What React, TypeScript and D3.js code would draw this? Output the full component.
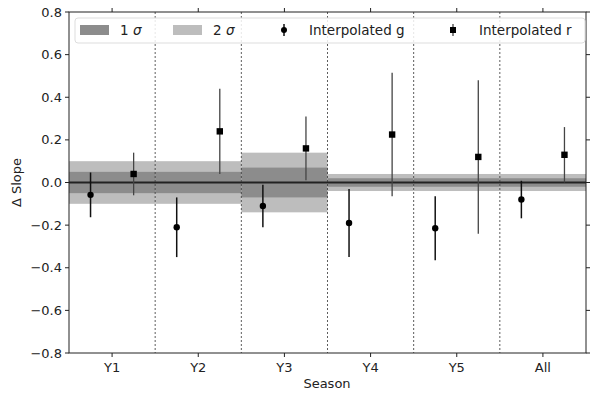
import React from "react";
import * as d3 from "d3";

const categories = ["Y1", "Y2", "Y3", "Y4", "Y5", "All"];
const sigma1 = [0.05, 0.05, 0.07, 0.02, 0.02, 0.02];
const sigma2 = [0.1, 0.1, 0.14, 0.04, 0.04, 0.04];
const gValues = [-0.058, -0.21, -0.11, -0.19, -0.215, -0.08];
const gErrors = [0.105, 0.14, 0.1, 0.16, 0.15, 0.088];
const rValues = [0.04, 0.24, 0.16, 0.225, 0.12, 0.13];
const rErrors = [0.1, 0.2, 0.15, 0.29, 0.36, 0.13];
const yTicks = [-0.8, -0.6, -0.4, -0.2, 0.0, 0.2, 0.4, 0.6, 0.8];

const W = 590;
const H = 399;
const left = 69;
const right = 586;
const top = 12;
const bottom = 353;

export default function App() {
  const x = d3.scaleLinear().domain([-0.5, categories.length - 0.5]).range([left, right]);
  const y = d3.scaleLinear().domain([-0.8, 0.8]).range([bottom, top]);
  const fmt = (v: number) => d3.format(".1f")(v).replace("-", "\u2212");
  const font = "DejaVu Sans, sans-serif";
  const off = 0.25;
  const fs = 13;
  return (
    <svg width={W} height={H} style={{ position: "absolute", left: 0, top: 0, background: "#fff" }} fontFamily={font}>
      <rect x={0} y={0} width={W} height={H} fill="#fff" />
      {categories.map((c, i) => (
        <g key={"b" + c}>
          <rect x={x(i - 0.5)} width={x(i + 0.5) - x(i - 0.5)} y={y(sigma2[i])} height={y(-sigma2[i]) - y(sigma2[i])} fill="#bdbdbd" />
          <rect x={x(i - 0.5)} width={x(i + 0.5) - x(i - 0.5)} y={y(sigma1[i])} height={y(-sigma1[i]) - y(sigma1[i])} fill="#8c8c8c" />
        </g>
      ))}
      <line x1={left} x2={right} y1={y(0)} y2={y(0)} stroke="#222" strokeWidth={2.2} />
      {categories.slice(1).map((c, i) => (
        <line key={"s" + c} x1={x(i + 0.5)} x2={x(i + 0.5)} y1={top} y2={bottom} stroke="#333" strokeWidth={0.8} strokeDasharray="2,2" />
      ))}
      {categories.map((c, i) => (
        <g key={"g" + c}>
          <line x1={x(i - off)} x2={x(i - off)} y1={y(gValues[i] + gErrors[i])} y2={y(gValues[i] - gErrors[i])} stroke="#111" strokeWidth={1.5} />
          <circle cx={x(i - off)} cy={y(gValues[i])} r={3.2} fill="#000" />
        </g>
      ))}
      {categories.map((c, i) => (
        <g key={"r" + c}>
          <line x1={x(i + off)} x2={x(i + off)} y1={y(rValues[i] + rErrors[i])} y2={y(rValues[i] - rErrors[i])} stroke="#444" strokeWidth={1.3} />
          <rect x={x(i + off) - 3.2} y={y(rValues[i]) - 3.2} width={6.4} height={6.4} fill="#000" />
        </g>
      ))}
      <rect x={left} y={top} width={right - left} height={bottom - top} fill="none" stroke="#222" strokeWidth={1} />
      {yTicks.map((t) => (
        <g key={"y" + t}>
          <line x1={left - 4} x2={left} y1={y(t)} y2={y(t)} stroke="#222" />
          <line x1={right} x2={right + 4} y1={y(t)} y2={y(t)} stroke="#222" />
          <text x={left - 7} y={y(t)} dy="0.35em" textAnchor="end" fontSize={fs} fill="#222">{fmt(t)}</text>
        </g>
      ))}
      {categories.map((c, i) => (
        <g key={"x" + c}>
          <line x1={x(i)} x2={x(i)} y1={bottom} y2={bottom + 4} stroke="#222" />
          <line x1={x(i)} x2={x(i)} y1={top - 4} y2={top} stroke="#222" />
          <text x={x(i)} y={bottom + 19} textAnchor="middle" fontSize={fs} fill="#222">{c}</text>
        </g>
      ))}
      <text x={327} y={bottom + 35} textAnchor="middle" fontSize={fs} fill="#222">Season</text>
      <text transform={`translate(21,${y(0)}) rotate(-90)`} textAnchor="middle" fontSize={fs} fill="#222">Δ Slope</text>
      <g>
        <rect x={75} y={18} width={510} height={25} rx={3} fill="#fff" fillOpacity={0.85} stroke="#ddd" />
        <rect x={80} y={25} width={29} height={10} fill="#8c8c8c" />
        <text x={120} y={30} dy="0.35em" fontSize={13.5} fill="#222">1 <tspan fontStyle="italic">σ</tspan></text>
        <rect x={173} y={25} width={29} height={10} fill="#bdbdbd" />
        <text x={213} y={30} dy="0.35em" fontSize={13.5} fill="#222">2 <tspan fontStyle="italic">σ</tspan></text>
        <line x1={284} x2={284} y1={24} y2={36} stroke="#111" strokeWidth={1.5} />
        <circle cx={284} cy={30} r={3} fill="#000" />
        <text x={309} y={30} dy="0.35em" fontSize={13.5} fill="#222">Interpolated g</text>
        <line x1={453} x2={453} y1={24} y2={36} stroke="#444" strokeWidth={1.3} />
        <rect x={450} y={27} width={6} height={6} fill="#000" />
        <text x={479} y={30} dy="0.35em" fontSize={13.5} fill="#222">Interpolated r</text>
      </g>
    </svg>
  );
}
